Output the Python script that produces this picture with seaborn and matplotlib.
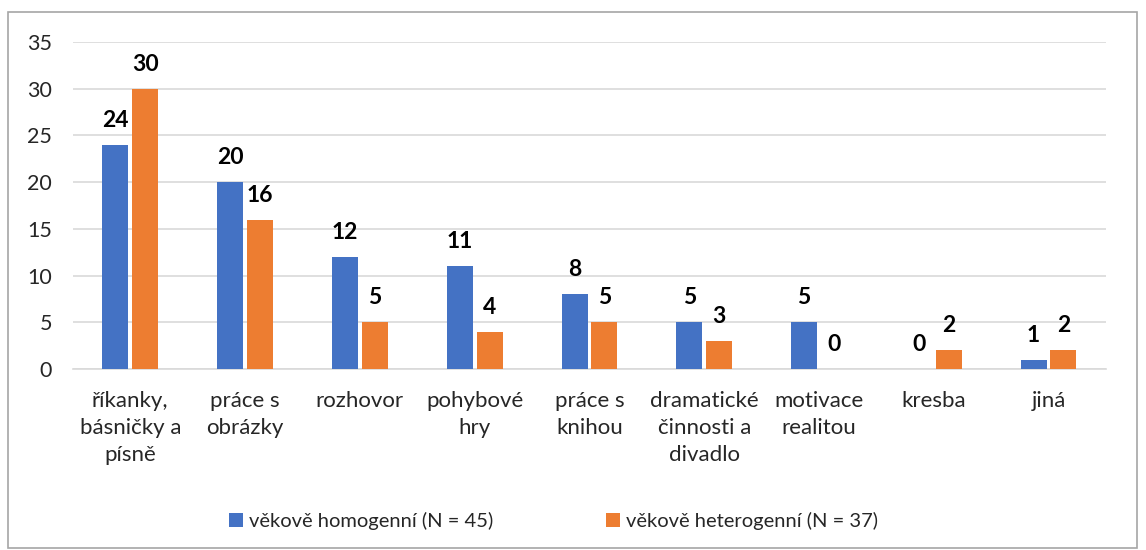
import matplotlib
matplotlib.use("Agg")
import matplotlib.pyplot as plt
import seaborn as sns
import pandas as pd
from matplotlib.patches import Rectangle

categories = ["říkanky,\nbásničky a\npísně", "práce s\nobrázky", "rozhovor", "pohybové\nhry",
              "práce s\nknihou", "dramatické\nčinnosti a\ndivadlo", "motivace\nrealitou", "kresba", "jiná"]
homogenni = [24, 20, 12, 11, 8, 5, 5, 0, 1]
heterogenni = [30, 16, 5, 4, 5, 3, 0, 2, 2]
series_names = ["věkově homogenní (N = 45)", "věkově heterogenní (N = 37)"]
colors = ["#4472C4", "#ED7D31"]

df = pd.DataFrame({
    "kategorie": categories * 2,
    "hodnota": homogenni + heterogenni,
    "skupina": [series_names[0]] * len(categories) + [series_names[1]] * len(categories),
})

sns.set_theme(style="white")
plt.rcParams["font.family"] = ["Lato", "DejaVu Sans"]

fig = plt.figure(figsize=(11.46, 5.5), dpi=100)
ax = fig.add_axes([0.0637, 0.329, 0.9013, 0.5946])

sns.barplot(data=df, x="kategorie", y="hodnota", hue="skupina", palette=colors,
            width=0.52, gap=0.13, ax=ax, saturation=1, errorbar=None, zorder=3,
            linewidth=0)

for cont in ax.containers:
    ax.bar_label(cont, fmt="%g", padding=10, fontsize=16.5, fontweight="bold", color="black")

ax.set_ylim(0, 35)
ax.set_yticks(range(0, 36, 5))
ax.yaxis.grid(True, color="#d9d9d9", linewidth=1.2, zorder=0)
ax.set_axisbelow(True)
for s in ["left", "right", "top"]:
    ax.spines[s].set_visible(False)
ax.spines["bottom"].set_color("#d9d9d9")
ax.spines["bottom"].set_linewidth(1.2)
ax.set_xlabel("")
ax.set_ylabel("")
ax.tick_params(axis="y", labelsize=15.5, colors="#262626", length=0, pad=15)
ax.tick_params(axis="x", labelsize=16, colors="#262626", length=0, pad=16)
for lbl in ax.get_xticklabels():
    lbl.set_linespacing(1.42)
    lbl.set_verticalalignment("top")

ax.legend(loc="center", bbox_to_anchor=(0.483, 0.052), bbox_transform=fig.transFigure,
          ncol=2, frameon=False, fontsize=14.5, handlelength=0.7, handleheight=0.7,
          handletextpad=0.3, columnspacing=5.6)

fig.patches.append(Rectangle((8 / 1146, 2 / 550), 1129 / 1146, 536 / 550,
                             transform=fig.transFigure, fill=False,
                             edgecolor="#a6a6a6", linewidth=1.2))

fig.savefig("out.png", dpi=100)
